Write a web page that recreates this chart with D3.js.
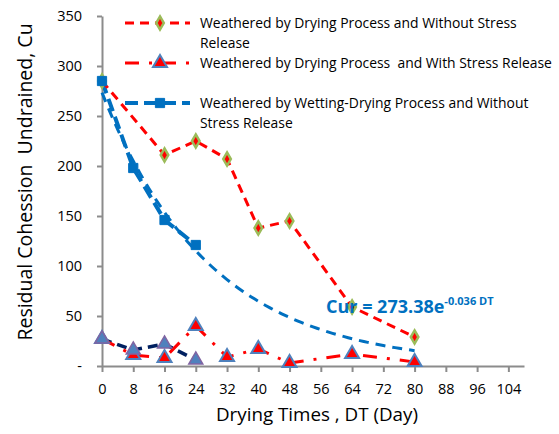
<!DOCTYPE html>
<html>
<head>
<meta charset="utf-8">
<script src="https://cdn.jsdelivr.net/npm/d3@7"></script>
<style>
  body { margin: 0; background: #fff; }
  svg { display: block; font-family: "Open Sans", "Lato", sans-serif; }
</style>
</head>
<body>
<svg id="chart"></svg>
<script>
// data
const xTicks = [0, 8, 16, 24, 32, 40, 48, 56, 64, 72, 80, 88, 96, 104];
const yTicks = [0, 50, 100, 150, 200, 250, 300, 350];

const dryNoReleaseX = [0, 16, 24, 32, 40, 48, 64, 80];
const dryNoReleaseY = [285, 211, 225, 207, 138, 145, 59, 29];

const dryReleaseX = [0, 8, 16, 24, 32, 40, 48, 64, 80];
const dryReleaseY = [27, 11, 8, 40, 9, 17, 3, 12, 4];

const wetDryX = [0, 8, 16, 24];
const wetDryY = [285, 198, 146, 121];

const extraX = [0, 8, 16, 24];
const extraY = [27, 16, 22, 6];

const trendA = 273.38, trendK = -0.036;
const trendX = d3.range(0, 80.5, 1);

const legendLabels = [
  ["Weathered by Drying Process and Without Stress", "Release"],
  ["Weathered by Drying Process  and With Stress Release"],
  ["Weathered by Wetting-Drying Process and Without", "Stress Release"]
];

const width = 559, height = 434;
const margin = { top: 16, right: 35, bottom: 68, left: 102 };
const boundsWidth = width - margin.left - margin.right;
const boundsHeight = height - margin.top - margin.bottom;

const svg = d3.select("#chart").attr("width", width).attr("height", height);

const scaleX = d3.scaleLinear().domain([0, 108]).range([margin.left, margin.left + boundsWidth]);
const scaleY = d3.scaleLinear().domain([0, 350]).range([margin.top + boundsHeight, margin.top]);

// Оси
const xAxis = d3.axisBottom(scaleX).tickValues(xTicks).tickSize(6).tickSizeOuter(0);
const gx = svg.append("g")
  .attr("transform", `translate(0, ${scaleY(0)})`)
  .call(xAxis);
gx.select(".domain").attr("stroke", "#8c8c8c").attr("stroke-width", 2);
gx.selectAll(".tick line").attr("stroke", "#8c8c8c").attr("stroke-width", 2);
gx.selectAll("text").attr("font-size", 14.5).attr("fill", "#000").attr("font-family", "Open Sans").attr("dy", "1.3em");

const yAxis = d3.axisLeft(scaleY).tickValues(yTicks).tickSize(5).tickSizeOuter(0)
  .tickFormat(d => d === 0 ? "-" : d);
const gy = svg.append("g")
  .attr("transform", `translate(${margin.left}, 0)`)
  .call(yAxis);
gy.select(".domain").attr("stroke", "#8c8c8c").attr("stroke-width", 2);
gy.selectAll(".tick line").attr("stroke", "#8c8c8c").attr("stroke-width", 2);
gy.selectAll("text").attr("font-size", 14.5).attr("fill", "#000").attr("font-family", "Open Sans").attr("x", -20);

// axis titles
svg.append("text")
  .attr("x", 317).attr("y", 421)
  .attr("text-anchor", "middle")
  .attr("font-size", 18.8)
  .text("Drying Times , DT (Day)");

svg.append("text")
  .attr("transform", "translate(32, 182) rotate(-90)")
  .attr("text-anchor", "middle")
  .attr("font-size", 19.5)
  .style("white-space", "pre")
  .text("Residual Cohession  Undrained, Cu");

const line = d3.line().x(d => scaleX(d[0])).y(d => scaleY(d[1]));
const zip = (xs, ys) => xs.map((x, i) => [x, ys[i]]);

// trend line
svg.append("path")
  .datum(trendX.map(x => [x, trendA * Math.exp(trendK * x)]))
  .attr("d", line)
  .attr("fill", "none")
  .attr("stroke", "#0070C0")
  .attr("stroke-width", 3)
  .attr("stroke-dasharray", "10,7");

const series = [
  { pts: zip(wetDryX, wetDryY), color: "#0070C0", width: 4, dash: "13,6",
    symbol: d3.symbolSquare, size: 85, fill: "#0070C0", stroke: "#0070C0", sw: 1 },
  { pts: zip(extraX, extraY), color: "#002060", width: 3.5, dash: "10,6",
    symbol: d3.symbolTriangle, size: 85, fill: "#4F81BD", stroke: "#8064A2", sw: 1.5 },
  { pts: zip(dryReleaseX, dryReleaseY), color: "#FF0000", width: 3, dash: "14,10,3,10",
    symbol: d3.symbolTriangle, size: 85, fill: "#FF0000", stroke: "#4F81BD", sw: 2 },
  { pts: zip(dryNoReleaseX, dryNoReleaseY), color: "#FF0000", width: 3, dash: "9,6",
    symbol: d3.symbolDiamond, size: 50, fill: "#FF0000", stroke: "#9BBB59", sw: 2.5 }
];

series.forEach(s => {
  svg.append("path")
    .datum(s.pts)
    .attr("d", line)
    .attr("fill", "none")
    .attr("stroke", s.color)
    .attr("stroke-width", s.width)
    .attr("stroke-dasharray", s.dash);
});
series.slice().reverse().forEach(s => {
  svg.selectAll(null)
    .data(s.pts)
    .enter()
    .append("path")
    .attr("transform", d => `translate(${scaleX(d[0])}, ${scaleY(d[1])})`)
    .attr("d", d3.symbol().type(s.symbol).size(s.size))
    .attr("fill", s.fill)
    .attr("stroke", s.stroke)
    .attr("stroke-width", s.sw);
});

// легенда
const legendItems = [series[3], series[2], series[0]];
const legendY = [23, 63, 103];
legendItems.forEach((s, i) => {
  const y = legendY[i];
  svg.append("line")
    .attr("x1", 125).attr("x2", 190).attr("y1", y).attr("y2", y)
    .attr("stroke", s.color).attr("stroke-width", s.width)
    .attr("stroke-dasharray", s.dash);
  svg.append("path")
    .attr("transform", `translate(160, ${y})`)
    .attr("d", d3.symbol().type(s.symbol).size(s.size))
    .attr("fill", s.fill).attr("stroke", s.stroke).attr("stroke-width", s.sw);
  const t = svg.append("text")
    .attr("x", 200).attr("y", y + 5)
    .attr("font-size", 13.9)
    .style("white-space", "pre");
  legendLabels[i].forEach((l, j) => {
    t.append("tspan").attr("x", 200).attr("dy", j === 0 ? 0 : 20).text(l);
  });
});

// equation
const eq = svg.append("text")
  .attr("x", 326).attr("y", 313)
  .attr("font-size", 18)
  .attr("font-weight", "bold")
  .attr("fill", "#0070C0");
eq.append("tspan").text("Cur = 273.38e");
eq.append("tspan").attr("font-size", 11).attr("dy", -8).text("-0.036 DT");
</script>
</body>
</html>
